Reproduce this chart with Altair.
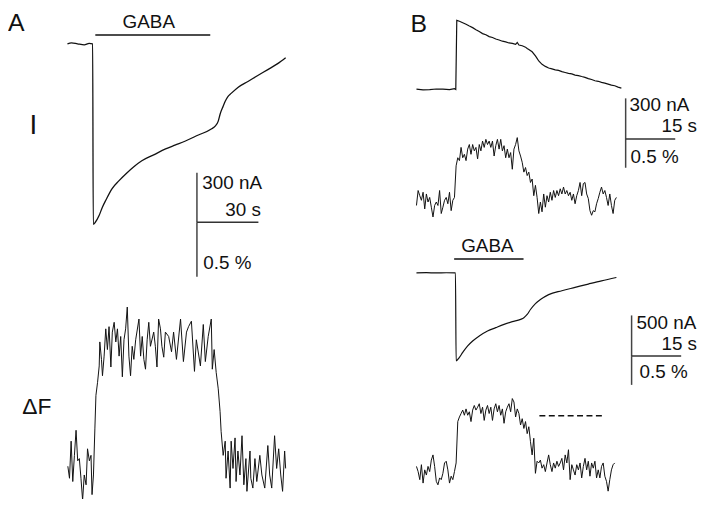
import altair as alt
import pandas as pd

# ------------------------------------------------------------------ data
# Panel A: membrane current (nA) vs time (s), GABA applied at t = 0
a_I_t = [-12.6, -10.6, -7.7, -4.4, -2.0, -0.3, 0.0, 1.0, 2.9, 4.4, 6.3, 9.2, 12.6, 16.0, 19.8,
         23.7, 29.5, 35.3, 40.2, 45.0, 51.3, 57.6, 59.5, 61.0, 61.9, 63.4, 64.4, 65.8, 67.3,
         70.6, 75.5, 80.3, 85.2, 90.0, 93.9]
a_I_nA = [0, 6, 0, -6, 3, 0, -1092, -1080, -1038, -990, -942, -876, -828, -786, -744,
          -708, -672, -636, -612, -588, -552, -516, -498, -468, -426, -378, -348, -318, -300,
          -264, -228, -192, -156, -120, -84]

# Panel A: fluorescence change (%) vs time (s)
a_dF_t = [-12.4, -11.6, -10.8, -10.0, -9.2, -8.4, -7.6, -6.8, -6.0, -5.2,
          -4.4, -3.5, -2.8, -1.9, -1.1, -0.6, 0.1, 0.8, 1.3, 2.1,
          2.9, 3.2, 4.0, 4.5, 5.3, 6.1, 6.9, 7.7, 8.6, 9.3,
          10.2, 11.0, 11.8, 12.6, 13.4, 14.2, 15.0, 15.8, 16.6, 17.4,
          18.2, 19.0, 19.8, 20.7, 22.3, 23.1, 23.9, 24.7, 25.5, 26.3,
          27.1, 27.9, 29.5, 30.3, 31.1, 31.9, 32.8, 33.5, 34.4, 35.2,
          36.8, 38.2, 39.2, 40.6, 42.6, 44.0, 45.5, 46.5, 47.9, 49.4,
          50.3, 52.3, 53.7, 54.7, 56.1, 57.6, 58.1, 59.0, 60.0, 61.0,
          61.9, 62.4, 63.4, 64.4, 64.8, 65.8, 66.8, 67.3, 68.2, 69.2,
          69.7, 70.6, 71.6, 72.6, 73.5, 74.5, 75.0, 76.5, 76.9, 77.9,
          78.9, 79.8, 81.3, 82.3, 83.7, 85.2, 86.1, 87.1, 88.5, 89.5,
          90.5, 91.5, 92.4, 93.4, 93.9]
a_dF_pct = [-0.01, -0.12, 0.22, -0.15, 0.09, 0.32, 0.04, 0.06, -0.12, -0.32,
            -0.09, -0.18, 0.15, 0.04, 0.09, -0.27, -0.09, 0.34, 0.64, 0.76,
            0.91, 1.13, 0.97, 0.82, 1.00, 1.25, 1.06, 1.27, 0.90, 1.22,
            1.31, 1.13, 1.25, 1.00, 1.18, 0.81, 1.15, 1.25, 1.45, 1.00,
            0.82, 1.09, 0.97, 1.15, 1.34, 1.00, 1.18, 0.97, 0.88, 1.15,
            1.31, 1.09, 1.22, 1.09, 0.90, 1.34, 1.25, 1.09, 0.99, 1.22,
            1.18, 1.04, 1.22, 0.97, 1.34, 0.95, 1.22, 1.27, 1.32, 0.86,
            1.15, 0.91, 1.29, 0.95, 1.18, 1.34, 0.88, 1.06, 0.85, 0.70,
            0.49, 0.31, 0.09, 0.22, -0.12, 0.13, -0.21, 0.22, -0.03, 0.25,
            -0.15, 0.13, -0.09, 0.27, -0.18, 0.06, -0.24, 0.13, -0.12, -0.21,
            0.06, -0.15, 0.09, -0.09, -0.21, 0.18, -0.09, -0.21, 0.27, -0.03,
            0.15, -0.09, -0.24, 0.13, -0.03]

# Panel B, upper pair: outward current (nA) and fluorescence (%)
b1_I_t = [-12.0, -10.0, -8.0, -6.0, -4.0, -2.0, -0.5, -0.1, 0.2, 1.0, 2.0, 3.0, 4.0, 5.0, 6.0,
          7.0, 8.0, 9.0, 10.0, 11.0, 12.0, 13.0, 14.0, 15.0, 16.0, 17.0, 18.0, 18.5, 19.0,
          20.0, 21.0, 21.5, 22.0, 23.0, 24.0, 24.5, 25.0, 26.0, 27.0, 28.0, 29.0, 30.0, 31.0,
          32.0, 33.0, 34.0, 35.0, 36.0, 37.0, 38.0, 39.0, 40.0, 41.0, 42.0, 43.0, 44.0, 45.0,
          46.0, 47.0, 48.0, 49.0, 50.0]
b1_I_nA = [2, -3, -2, 3, 2, -2, 5, 0, 510, 503, 492, 481, 468, 456, 441,
           427, 412, 404, 390, 383, 372, 365, 356, 351, 343, 340, 333, 346, 328,
           322, 312, 302, 295, 278, 248, 229, 210, 185, 170, 158, 152, 144, 140,
           131, 125, 119, 115, 106, 102, 95, 89, 80, 73, 64, 60, 52, 46,
           39, 32, 27, 17, 10]

b1_dF_t = [-12.0, -11.5, -11.0, -10.5, -10.0, -9.5, -9.0, -8.5, -8.0, -7.5,
           -7.0, -6.5, -6.0, -5.5, -5.0, -4.5, -4.0, -3.5, -3.0, -2.5,
           -2.0, -1.5, -1.0, -0.5, 0.0, 0.5, 1.0, 1.5, 2.0, 2.5,
           3.0, 3.5, 4.0, 4.5, 5.0, 5.5, 6.0, 6.5, 7.0, 7.5,
           8.0, 8.5, 9.0, 9.5, 10.0, 10.5, 11.0, 11.5, 12.0, 12.5,
           13.0, 13.5, 14.0, 14.5, 15.0, 15.5, 16.0, 16.5, 17.0, 17.5,
           18.0, 18.5, 19.0, 19.5, 20.0, 20.5, 21.0, 21.5, 22.0, 22.5,
           23.0, 23.5, 24.0, 24.5, 25.0, 25.5, 26.0, 26.5, 27.0, 27.5,
           28.0, 28.5, 29.0, 29.5, 30.0, 30.5, 31.0, 31.5, 32.0, 32.5,
           33.0, 33.5, 34.0, 34.5, 35.0, 35.5, 36.0, 36.5, 37.0, 37.5,
           38.0, 38.5, 39.0, 39.5, 40.0, 40.5, 41.0, 41.5, 42.0, 42.5,
           43.0, 43.5, 44.0, 44.5, 45.0, 45.5, 46.0, 46.5, 47.0, 47.5,
           48.0, 48.5]
b1_dF_pct = [-0.07, 0.19, 0.10, 0.02, 0.16, -0.13, 0.13, -0.01, 0.07, -0.10,
             -0.27, -0.07, -0.01, -0.07, 0.19, -0.21, -0.10, 0.02, 0.07, -0.04,
             0.16, -0.16, 0.02, 0.07, 0.62, 0.76, 0.71, 0.94, 0.76, 0.82,
             0.71, 0.91, 0.99, 0.82, 0.99, 0.88, 0.94, 0.74, 0.99, 0.88,
             1.05, 0.94, 1.08, 0.99, 1.05, 0.94, 1.05, 0.79, 0.97, 1.08,
             0.91, 1.08, 0.88, 0.97, 0.76, 0.91, 0.76, 0.85, 0.56, 0.91,
             0.99, 1.11, 0.88, 0.79, 0.68, 0.51, 0.59, 0.45, 0.51, 0.33,
             0.39, 0.10, 0.28, 0.07, -0.21, -0.01, -0.18, 0.13, -0.10, 0.10,
             -0.01, 0.16, 0.02, 0.19, 0.07, 0.19, 0.10, 0.22, 0.13, 0.25,
             0.13, 0.19, 0.10, 0.16, 0.02, 0.13, -0.04, 0.10, 0.19, 0.33,
             0.10, 0.31, 0.33, 0.13, 0.05, -0.16, -0.24, -0.16, -0.18, -0.04,
             0.05, 0.16, 0.25, 0.13, 0.19, 0.07, -0.07, 0.13, -0.07, -0.21,
             0.02, 0.07]

# Panel B, lower pair: inward current (nA) and fluorescence (%)
b2_I_t = [-12.0, -9.0, -6.0, -3.0, -0.2, 0.0, 1.0, 2.0, 3.5, 5.0, 7.0, 9.5, 12.0, 14.5,
          17.0, 19.5, 20.5, 21.5, 22.5, 24.0, 25.5, 28.0, 32.0, 36.0, 40.0, 44.0, 48.5]
b2_I_nA = [0, 2, -1, 1, 0, -1082, -1040, -979, -899, -838, -777, -716, -674, -634,
           -601, -573, -552, -512, -451, -378, -329, -268, -220, -179, -138, -98, -57]

b2_dF_t = [-12.0, -11.5, -11.0, -10.5, -10.0, -9.5, -9.0, -8.5, -8.0, -7.5,
           -7.0, -6.5, -6.0, -5.5, -5.0, -4.5, -4.0, -3.5, -3.0, -2.5,
           -2.0, -1.5, -1.0, -0.5, 0.0, 0.5, 1.0, 1.5, 2.0, 2.5,
           3.0, 3.5, 4.0, 4.5, 5.0, 5.5, 6.0, 6.5, 7.0, 7.5,
           8.0, 8.5, 9.0, 9.5, 10.0, 10.5, 11.0, 11.5, 12.0, 12.5,
           13.0, 13.5, 14.0, 14.5, 15.0, 15.5, 16.0, 16.5, 17.0, 17.5,
           18.0, 18.5, 19.0, 19.5, 20.0, 20.5, 21.0, 21.5, 22.0, 22.5,
           23.0, 23.5, 24.0, 24.5, 25.0, 25.5, 26.0, 26.5, 27.0, 27.5,
           28.0, 28.5, 29.0, 29.5, 30.0, 30.5, 31.0, 31.5, 32.0, 32.5,
           33.0, 33.5, 34.0, 34.5, 35.0, 35.5, 36.0, 36.5, 37.0, 37.5,
           38.0, 38.5, 39.0, 39.5, 40.0, 40.5, 41.0, 41.5, 42.0, 42.5,
           43.0, 43.5, 44.0, 44.5, 45.0, 45.5, 46.0, 46.5, 47.0, 47.5,
           48.0]
b2_dF_pct = [0.03, -0.06, -0.20, 0.06, -0.26, -0.03, -0.12, 0.03, -0.06, 0.14,
             0.23, 0.03, -0.23, -0.29, -0.17, -0.20, -0.09, 0.09, 0.12, -0.03,
             -0.26, -0.14, -0.20, -0.06, 0.09, 0.81, 0.89, 0.95, 1.01, 0.92,
             1.03, 0.92, 0.98, 0.81, 1.01, 1.09, 1.01, 1.06, 1.12, 0.95,
             1.06, 0.83, 1.01, 1.09, 0.95, 1.06, 0.83, 1.03, 1.12, 0.98,
             1.09, 0.92, 1.03, 0.78, 0.98, 1.06, 1.12, 0.98, 1.21, 1.15,
             0.89, 1.03, 0.95, 0.75, 0.86, 0.69, 0.81, 0.60, 0.72, 0.46,
             0.23, 0.52, -0.09, 0.12, 0.09, 0.14, 0.00, 0.06, -0.06, 0.09,
             0.23, 0.06, -0.06, 0.09, 0.00, 0.12, 0.03, 0.09, 0.17, -0.03,
             0.23, 0.09, 0.32, -0.20, 0.06, -0.03, -0.12, 0.06, -0.03, 0.09,
             -0.17, 0.03, 0.17, -0.03, 0.12, -0.14, 0.09, 0.00, 0.12, -0.17,
             -0.03, -0.17, 0.03, 0.09, -0.14, -0.23, -0.40, -0.20, -0.03, 0.06,
             0.09]

# GABA application periods (s) and plateau reference level (%)
gaba_A = [1.0, 57.1]
gaba_B = [-0.6, 20.4]
ref_level_B2 = 0.91
ref_span_B2 = [25.2, 44.1]

# ------------------------------------------------------------------ layout
W, H = 699, 491
X0, Y0 = 8, 8
X1, Y1 = X0 + W, Y0 + H


def xdom(a, b):
    # a: page x where t = 0, b: pixels per second
    return [(X0 - a) / b, (X1 - a) / b]


def ydom(c, k):
    # c: page y where value = 0, k: pixels per unit (upwards)
    return [(c - Y1) / k, (c - Y0) / k]


xA = xdom(94, 62 / 30)
xB = xdom(460, 10 / 3)
DOM = {
    "A_I": (xA, ydom(42, 50 / 300)),
    "A_dF": (xA, ydom(467, 110)),
    "B1_I": (xB, ydom(88, 41 / 300)),
    "B1_dF": (xB, ydom(201, 58)),
    "B2_I": (xB, ydom(273, 41 / 500)),
    "B2_dF": (xB, ydom(470, 58)),
}

FONT = "Liberation Sans"
INK = "#111111"


def X(field, key):
    return alt.X(field, type="quantitative",
                 scale=alt.Scale(domain=DOM[key][0], nice=False, zero=False), axis=None)


def Y(field, key):
    return alt.Y(field, type="quantitative",
                 scale=alt.Scale(domain=DOM[key][1], nice=False, zero=False), axis=None)


def trace(t, v, key, width=1.1, interp="linear"):
    df = pd.DataFrame({"t": t, "v": v})
    return alt.Chart(df).mark_line(color=INK, strokeWidth=width, interpolate=interp).encode(
        x=X("t", key), y=Y("v", key))


def hbar(t0, t1, v, key, color="#333333", width=1.5, dash=None):
    df = pd.DataFrame({"t0": [t0], "t1": [t1], "v": [v]})
    kw = dict(color=color, strokeWidth=width)
    if dash:
        kw["strokeDash"] = dash
    return alt.Chart(df).mark_rule(**kw).encode(
        x=X("t0", key), x2="t1:Q", y=Y("v", key))


def vbar(t, v0, v1, key, color="#444444", width=1.5):
    df = pd.DataFrame({"t": [t], "v0": [v0], "v1": [v1]})
    return alt.Chart(df).mark_rule(color=color, strokeWidth=width).encode(
        x=X("t", key), y=Y("v0", key), y2="v1:Q")


def gaba_bar(span, key, py):
    df = pd.DataFrame({"t0": [span[0]], "t1": [span[1]]})
    return alt.Chart(df).mark_rule(color=INK, strokeWidth=1.5).encode(
        x=X("t0", key), x2="t1:Q", y=alt.value(py))


def label(s, px, py, size, align="left"):
    df = pd.DataFrame({"s": [s]})
    return alt.Chart(df).mark_text(font=FONT, fontSize=size, align=align,
                                   baseline="alphabetic", color=INK).encode(
        x=alt.value(px), y=alt.value(py), text="s:N")


layers = [
    # traces
    trace(a_I_t, a_I_nA, "A_I", 1.3, "monotone"),
    trace(a_dF_t, a_dF_pct, "A_dF", 1.0),
    trace(b1_I_t, b1_I_nA, "B1_I", 1.2),
    trace(b1_dF_t, b1_dF_pct, "B1_dF", 1.0),
    trace(b2_I_t, b2_I_nA, "B2_I", 1.2, "monotone"),
    trace(b2_dF_t, b2_dF_pct, "B2_dF", 1.0),
    # GABA bars
    gaba_bar(gaba_A, "A_I", 33 - Y0),
    gaba_bar(gaba_B, "B2_I", 259 - Y0),
    # reference dashed line
    hbar(ref_span_B2[0], ref_span_B2[1], ref_level_B2, "B2_dF", color=INK, width=1.4, dash=[6, 3.5]),
    # scale bars A: 300 nA, 30 s, 0.5 %
    vbar(50.6, -780, -1080, "A_I"),
    vbar(50.6, 2.227, 1.727, "A_dF"),
    hbar(50.6, 80.6, -1080, "A_I"),
    # scale bars B upper: 300 nA, 15 s, 0.5 %
    vbar(51.3, -66, -366, "B1_I"),
    vbar(51.3, 1.086, 0.586, "B1_dF"),
    hbar(51.3, 66.3, -366, "B1_I"),
    # scale bars B lower: 500 nA, 15 s, 0.5 %
    vbar(53.1, -524, -1024, "B2_I"),
    vbar(53.1, 1.948, 1.448, "B2_dF"),
    hbar(53.1, 68.1, -1024, "B2_I"),
    # texts
    label("A", 0, 21, 25),
    label("B", 406, 22, 25),
    label("GABA", 142, 18, 19, "center"),
    label("GABA", 483.5, 244, 19, "center"),
    label("I", 25.5, 125, 28, "center"),
    label("ΔF", 29, 407, 23, "center"),
    label("300 nA", 196, 180, 19),
    label("30 s", 255, 208, 19, "right"),
    label("0.5 %", 197, 261, 19),
    label("300 nA", 627, 102, 19),
    label("15 s", 695, 123, 19, "right"),
    label("0.5 %", 628, 154, 19),
    label("500 nA", 634, 322, 19),
    label("15 s", 695, 343, 19, "right"),
    label("0.5 %", 637, 371, 19),
]

chart = alt.layer(*layers).resolve_scale(
    x="independent", y="independent"
).properties(
    width=W, height=H, padding=0,
    autosize=alt.AutoSizeParams(type="none"),
    background="white",
).configure_view(stroke=None)

chart.save("out.html", embed_options={"renderer": "svg", "actions": False})
